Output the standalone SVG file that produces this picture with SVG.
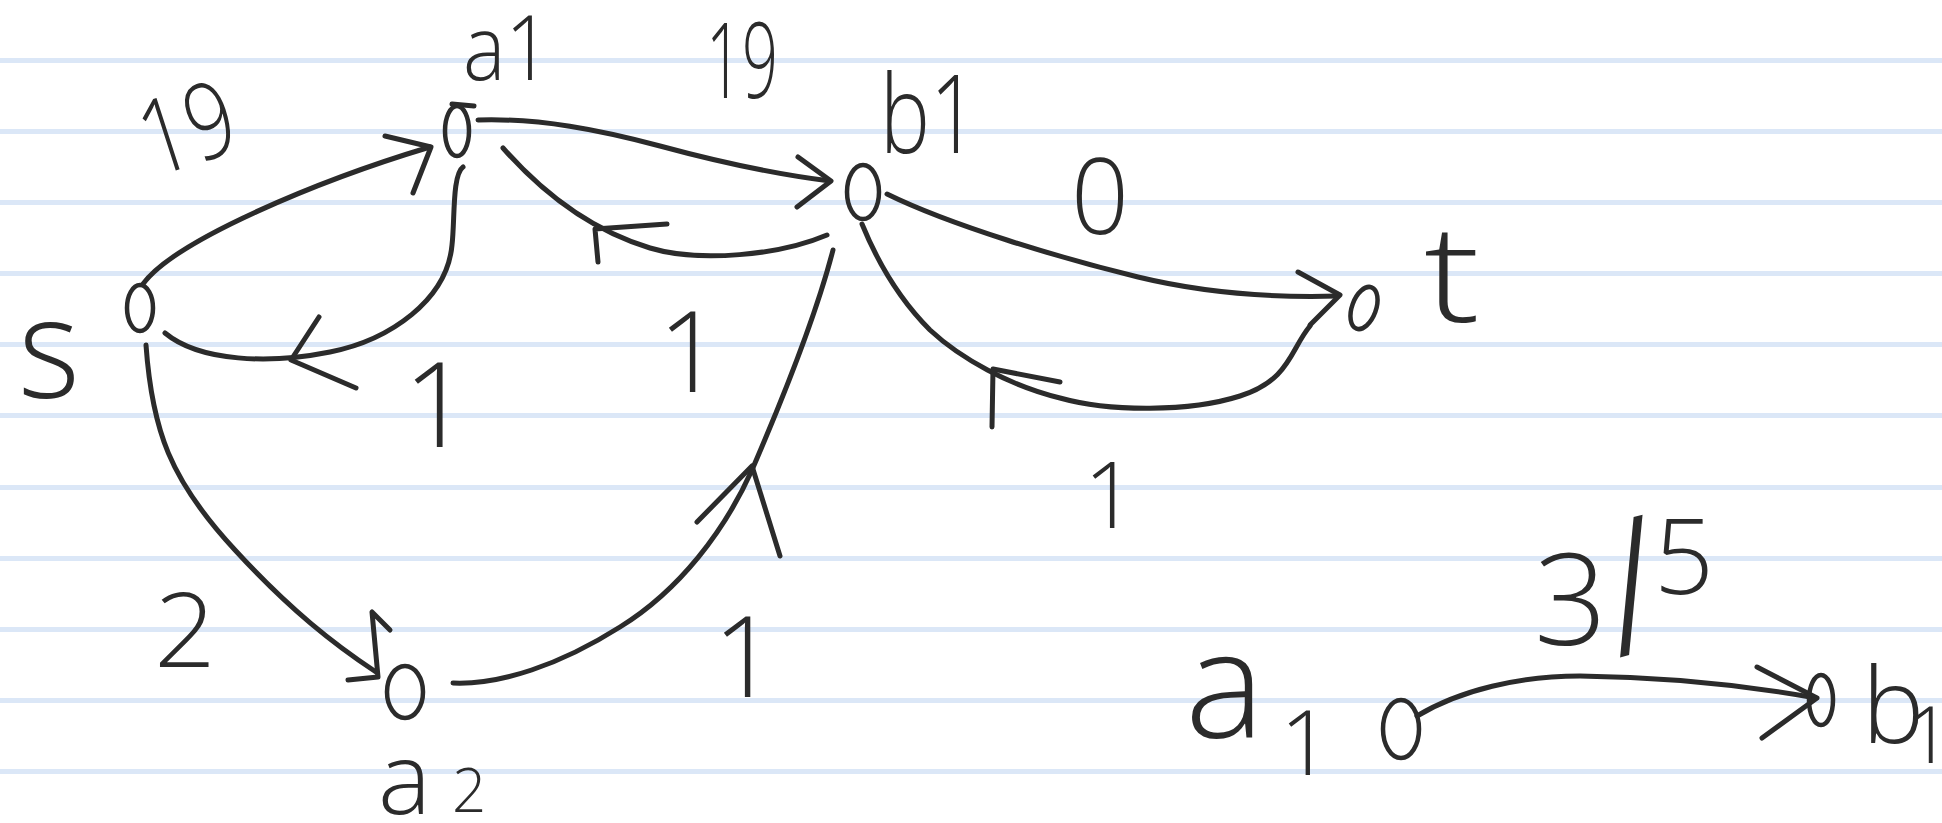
<svg xmlns="http://www.w3.org/2000/svg" width="1942" height="823" viewBox="0 0 1942 823">
<style>
.paper{fill:#ffffff}
.rule{fill:#dbe7f7}
.ink{fill:none;stroke:#2b2b2b;stroke-width:5;stroke-linecap:round;stroke-linejoin:round}
.node{fill:none;stroke:#2b2b2b;stroke-width:4.5}
.lbl{font-family:"Open Sans","Liberation Sans",sans-serif;font-weight:300;fill:#2b2b2b}
</style>
<rect class="paper" x="0" y="0" width="1942" height="823"/>
<g id="paper-lines">
<rect class="rule" x="0" y="58" width="1942" height="5"/>
<rect class="rule" x="0" y="129" width="1942" height="5"/>
<rect class="rule" x="0" y="200" width="1942" height="5"/>
<rect class="rule" x="0" y="271" width="1942" height="5"/>
<rect class="rule" x="0" y="342" width="1942" height="5"/>
<rect class="rule" x="0" y="413" width="1942" height="5"/>
<rect class="rule" x="0" y="485" width="1942" height="5"/>
<rect class="rule" x="0" y="556" width="1942" height="5"/>
<rect class="rule" x="0" y="627" width="1942" height="5"/>
<rect class="rule" x="0" y="698" width="1942" height="5"/>
<rect class="rule" x="0" y="769" width="1942" height="5"/>
</g>
<g id="connectors">
<!-- s -> a1 (19) -->
<path class="ink" d="M143,284 C175,240 320,180 430,147"/>
<path class="ink" d="M385,136 L431,147 L413,193"/>
<!-- a1 -> s (1) -->
<path class="ink" d="M463,167 C452,175 455,220 452,245 C447,300 390,340 330,352 C270,364 200,362 165,333"/>
<path class="ink" d="M319,317 L291,360 L356,388"/>
<!-- a1 -> b1 (19) -->
<path class="ink" d="M478,120 C540,118 600,130 660,146 C730,165 790,176 830,181"/>
<path class="ink" d="M798,157 L831,181 L797,207"/>
<!-- b1 -> a1 (1) -->
<path class="ink" d="M827,235 C780,255 700,263 650,248 C590,230 540,190 503,148"/>
<path class="ink" d="M667,224 L595,229 L598,262"/>
<!-- b1 -> t (0) -->
<path class="ink" d="M887,194 C950,225 1060,258 1138,277 C1200,292 1270,298 1338,296"/>
<path class="ink" d="M1298,272 L1340,295 L1310,325"/>
<!-- t -> b1 (1) -->
<path class="ink" d="M1310,326 C1290,350 1290,380 1240,396 C1190,412 1110,412 1060,398 C1010,386 960,358 930,330 C905,305 880,268 862,224"/>
<path class="ink" d="M1060,382 L993,369 L992,427"/>
<!-- s -> a2 (2) -->
<path class="ink" d="M146,345 C152,430 170,480 235,550 C290,610 335,645 376,672"/>
<path class="ink" d="M390,630 L372,612 L378,677 L348,680"/>
<!-- a2 -> b1 (1) -->
<path class="ink" d="M453,683 C500,685 560,665 620,627 C680,590 725,530 752,470 C780,405 815,320 833,250"/>
<path class="ink" d="M697,522 L752,466 L780,556"/>
<!-- legend a1 -> b1 (3/5) -->
<path class="ink" d="M1417,716 C1460,690 1520,676 1580,676 C1680,677 1760,688 1816,698"/>
<path class="ink" d="M1757,667 L1817,698 L1762,738"/>
</g>
<g id="node-s">
<ellipse class="node" cx="140" cy="308" rx="13" ry="23"/>
<text class="lbl" x="18" y="398" font-size="140" textLength="62" lengthAdjust="spacingAndGlyphs">s</text>
</g>
<g id="node-a1">
<ellipse class="node" cx="457" cy="131" rx="12" ry="25"/>
<path class="ink" d="M452,104 L474,106"/>
<text class="lbl" x="463" y="80" font-size="90" textLength="88" lengthAdjust="spacingAndGlyphs">a1</text>
</g>
<g id="node-b1">
<ellipse class="node" cx="863" cy="192" rx="16" ry="27"/>
<text class="lbl" x="880" y="153" font-size="108" textLength="98" lengthAdjust="spacingAndGlyphs">b1</text>
</g>
<g id="node-t">
<ellipse class="node" cx="1364" cy="308" rx="12" ry="22" transform="rotate(20 1364 308)"/>
<text class="lbl" x="1424" y="322" font-size="135" textLength="56" lengthAdjust="spacingAndGlyphs">t</text>
</g>
<g id="node-a2">
<ellipse class="node" cx="405" cy="692" rx="18" ry="26"/>
<text class="lbl" x="378" y="814" font-size="100">a<tspan x="452" y="812" font-size="60">2</tspan></text>
</g>
<g id="node-legend-a1">
<ellipse class="node" cx="1401" cy="729" rx="18" ry="29"/>
<text class="lbl" x="1185" y="738" font-size="150">a<tspan x="1280" y="775" font-size="90">1</tspan></text>
</g>
<g id="node-legend-b1">
<ellipse class="node" cx="1821" cy="700" rx="12" ry="25"/>
<text class="lbl" x="1862" y="743" font-size="105">b<tspan x="1906" y="763" font-size="80">1</tspan></text>
</g>
<g id="edge-labels">
<text class="lbl" x="187" y="165" font-size="105" text-anchor="middle" textLength="95" lengthAdjust="spacingAndGlyphs" transform="rotate(-18 187 128)">19</text>
<text class="lbl" x="706" y="98" font-size="106" textLength="72" lengthAdjust="spacingAndGlyphs">19</text>
<text class="lbl" x="1100" y="234" font-size="105" text-anchor="middle" textLength="58" lengthAdjust="spacingAndGlyphs">0</text>
<text class="lbl" x="437" y="447" font-size="118" text-anchor="middle">1</text>
<text class="lbl" x="690" y="392" font-size="112" text-anchor="middle">1</text>
<text class="lbl" x="185" y="667" font-size="104" text-anchor="middle" textLength="62" lengthAdjust="spacingAndGlyphs">2</text>
<text class="lbl" x="745" y="697" font-size="112" text-anchor="middle">1</text>
<text class="lbl" x="1110" y="528" font-size="92" text-anchor="middle">1</text>
<text class="lbl" x="1534" y="645" font-size="128">3<tspan x="1618" y="658" font-size="185" rotate="-15">/</tspan><tspan x="1654" y="594" font-size="105">5</tspan></text>
</g>
</svg>
